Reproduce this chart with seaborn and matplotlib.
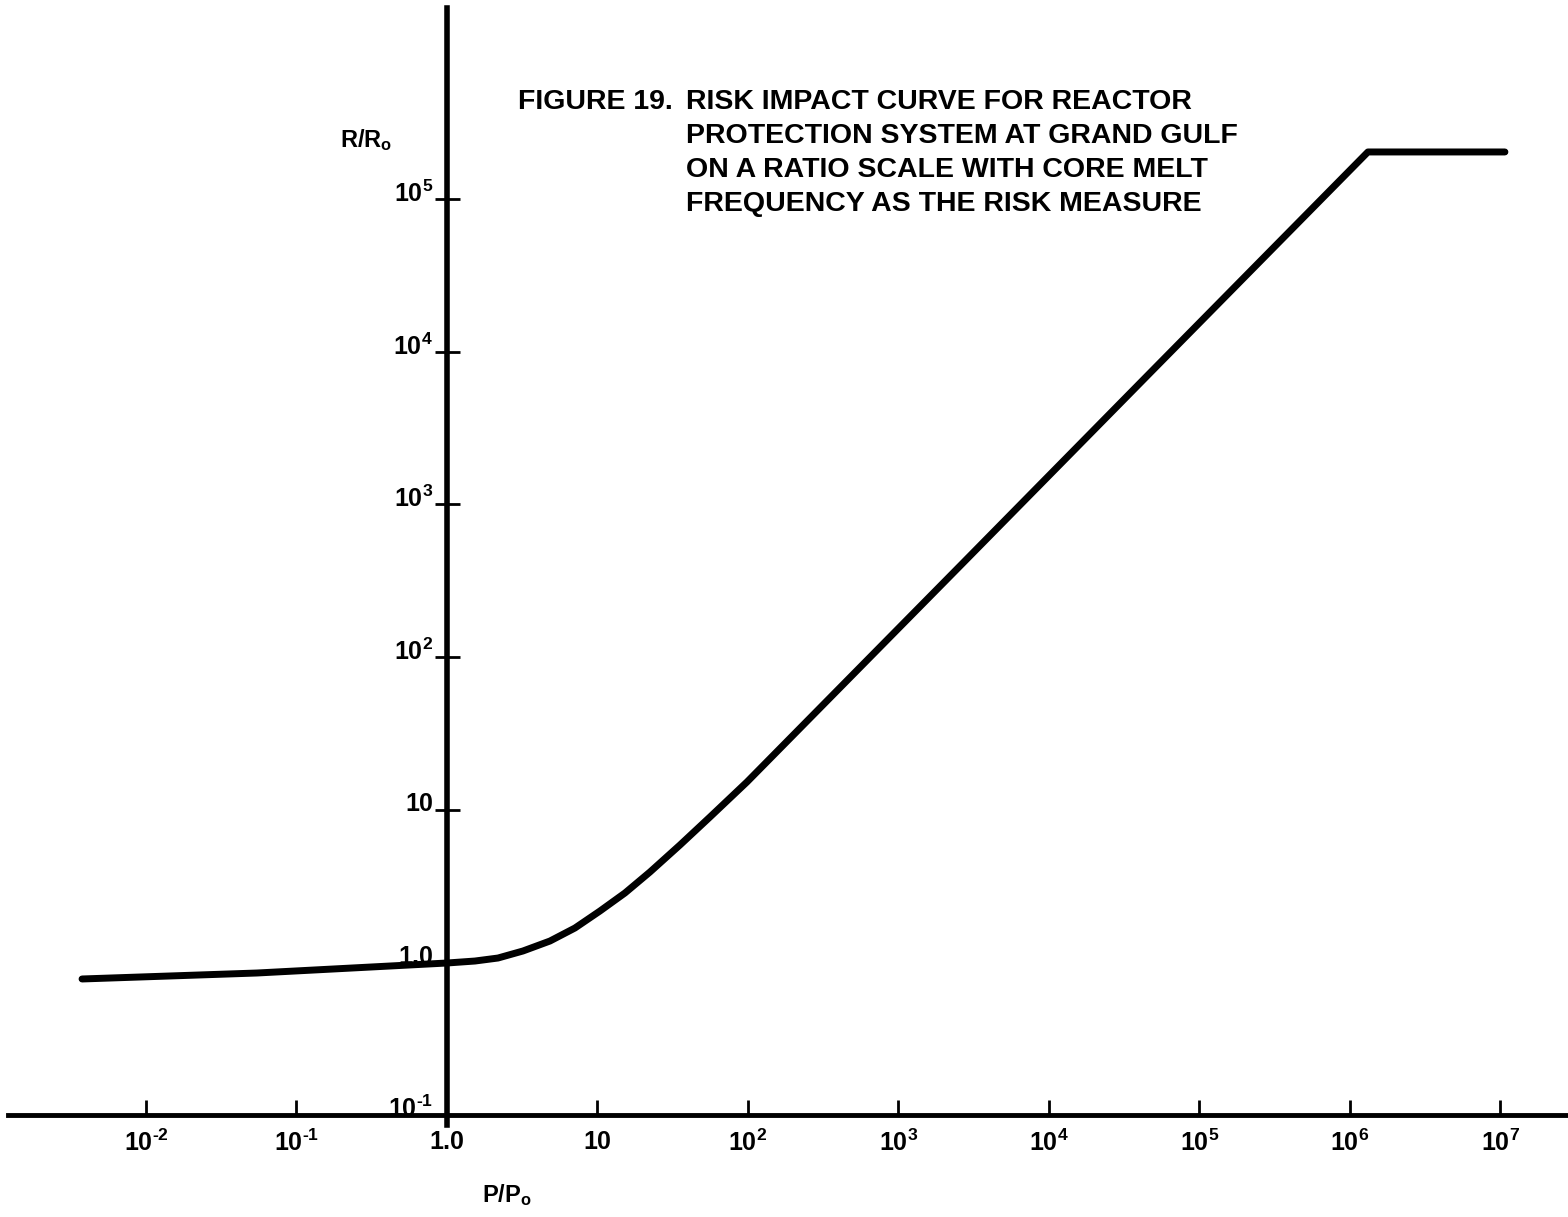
import numpy as np
import pandas as pd
import matplotlib
matplotlib.use("Agg")
import matplotlib.pyplot as plt
import matplotlib.transforms as mtransforms
import seaborn as sns

# risk impact curve
p_ratio = [0.00376, 0.0546, 1.0, 1.535, 2.183, 3.199, 4.836, 7.087, 10.39,
           15.23, 22.33, 35.33, 55.93, 98.5, 2683, 46900, 1.317e6, 1.071e7]
r_ratio = [0.774, 0.847, 0.985, 1.015, 1.062, 1.181, 1.373, 1.671, 2.160,
           2.835, 3.892, 5.850, 8.930, 15.15, 413.5, 7280, 2.049e5, 2.049e5]

x_ticks = [1e-2, 1e-1, 1.0, 10, 1e2, 1e3, 1e4, 1e5, 1e6, 1e7]
x_labels = [r"$10^{\text{-}2}$", r"$10^{\text{-}1}$", "1.0", "10", "$10^{2}$",
            "$10^{3}$", "$10^{4}$", "$10^{5}$", "$10^{6}$", "$10^{7}$"]
y_ticks = [0.1, 1.0, 10, 1e2, 1e3, 1e4, 1e5]
y_labels = [r"$10^{\text{-}1}$", "1.0", "10", "$10^{2}$", "$10^{3}$",
            "$10^{4}$", "$10^{5}$"]

title_head = "FIGURE 19."
title_lines = ["RISK IMPACT CURVE FOR REACTOR",
               "PROTECTION SYSTEM AT GRAND GULF",
               "ON A RATIO SCALE WITH CORE MELT",
               "FREQUENCY AS THE RISK MEASURE"]

df = pd.DataFrame({"P/Po": p_ratio, "R/Ro": r_ratio})

sns.set_style("white")
plt.rcParams["font.family"] = ["Liberation Sans", "DejaVu Sans"]
plt.rcParams["font.weight"] = "bold"
plt.rcParams["text.color"] = "black"
plt.rcParams["mathtext.fontset"] = "custom"
plt.rcParams["mathtext.rm"] = "Liberation Sans:bold"
plt.rcParams["mathtext.it"] = "Liberation Sans:bold"
plt.rcParams["mathtext.bf"] = "Liberation Sans:bold"

W, H = 1568, 1217
fig = plt.figure(figsize=(W / 100, H / 100), dpi=100)
ax = fig.add_axes([0, 0, 1, 1])
ax.set_facecolor("white")

sns.lineplot(data=df, x="P/Po", y="R/Ro", ax=ax, color="black", lw=5,
             solid_capstyle="round", solid_joinstyle="round")

ax.set_xscale("log")
ax.set_yscale("log")
ax.set_xlim(10 ** -2.970, 10 ** 7.449)
ax.set_ylim(10 ** -1.672, 10 ** 6.308)
ax.minorticks_off()

for s in ["top", "right"]:
    ax.spines[s].set_visible(False)
ax.spines["left"].set_position(("data", 1.0))
ax.spines["bottom"].set_position(("data", 0.1))
ax.spines["left"].set_bounds(10 ** -1.069, 10 ** 6.256)
ax.spines["bottom"].set_bounds(10 ** -2.92, 10 ** 7.449)
ax.spines["left"].set_linewidth(4)
ax.spines["bottom"].set_linewidth(3.5)
ax.spines["left"].set_color("black")
ax.spines["bottom"].set_color("black")

ax.set_xticks(x_ticks)
ax.set_xticklabels(x_labels)
ax.set_yticks(y_ticks)
ax.set_yticklabels(y_labels)
ax.tick_params(axis="x", direction="in", length=11, width=2, pad=11,
               labelsize=18, colors="black", bottom=True)
ax.tick_params(axis="y", direction="inout", length=18, width=2, pad=1,
               labelsize=18, colors="black", left=True)
shift = mtransforms.ScaledTranslation(0, 8 / 100, fig.dpi_scale_trans)
for lab in ax.get_yticklabels():
    lab.set_transform(lab.get_transform() + shift)
ax.set_xlabel("")
ax.set_ylabel("")

fig.text(366 / W, 1 - 140 / H, "R/R$_{o}$", fontsize=17, ha="center", va="center")
fig.text(507 / W, 1 - 1195 / H, "P/P$_{o}$", fontsize=17, ha="center", va="center")

fig.text(518 / W, 1 - 102 / H, title_head, fontsize=20.5, ha="left", va="center")
for i, line in enumerate(title_lines):
    fig.text(686 / W, 1 - (102 + 34 * i) / H, line, fontsize=20.5,
             ha="left", va="center")

fig.savefig("out.png", dpi=100, facecolor="white")
